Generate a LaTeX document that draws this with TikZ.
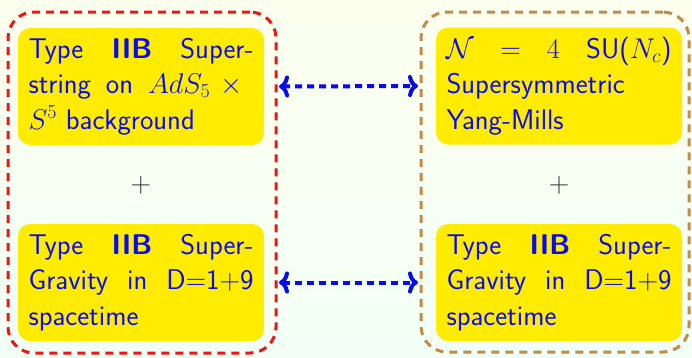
\RequirePackage{fix-cm}
\documentclass[tikz,border=0pt]{standalone}
\usepackage{fontspec}
\usetikzlibrary{arrows.meta}
\definecolor{bgtop}{RGB}{252,255,238}
\definecolor{bgbot}{RGB}{242,255,246}
\definecolor{boxyel}{RGB}{255,236,0}
\definecolor{txtblue}{RGB}{10,10,240}
\definecolor{redline}{RGB}{240,20,20}
\definecolor{brownline}{RGB}{196,138,74}
\tikzset{
  ybox/.style={fill=boxyel, rounded corners=12pt, text width=225pt, inner xsep=10.5pt,
    minimum height=117pt, text=txtblue, align=justify,
    font=\sffamily\fontsize{28.5}{35.5}\selectfont},
  outerbox/.style={rounded corners=26pt, line width=3pt, dash pattern=on 8pt off 6pt,
    minimum width=268pt, minimum height=341pt, inner sep=0pt},
  plussign/.style={text=black!80, font=\fontsize{28.5}{35.5}\selectfont, inner sep=0pt},
  dualarr/.style={txtblue, line width=4pt, dash pattern=on 7pt off 5pt,
    {Computer Modern Rightarrow[length=10pt,width=22pt,line cap=round,line join=round]}-{Computer Modern Rightarrow[length=10pt,width=22pt,line cap=round,line join=round]},
    shorten <=1.5pt, shorten >=1.5pt}
}
\begin{document}
\begin{tikzpicture}[x=1pt,y=-1pt]
\useasboundingbox (0,0) rectangle (692,357);
\shade[top color=bgtop, bottom color=bgbot] (0,0) rectangle (692,357);
\node[outerbox, draw=redline] (red) at (142,182.5) {};
\node[outerbox, draw=brownline, minimum height=340pt] (brown) at (555,182) {};
\node[ybox] (lt) at (141,86.5) {Type \textbf{IIB} Super-\linebreak string on $AdS_5\times{}$\linebreak $S^5$ background\par};
\node[ybox] (lb) at (141,282.5) {Type \textbf{IIB} Super-\linebreak Gravity in D$=$1$+$9\linebreak spacetime\par};
\node[ybox] (rt) at (559,86) {$\mathcal{N}$ $=$ $4$ SU($N_c$)\linebreak Supersymmetric\newline Yang-Mills\par};
\node[ybox] (rb) at (559,282.5) {Type \textbf{IIB} Super-\linebreak Gravity in D$=$1$+$9\linebreak spacetime\par};
\node[plussign] (pl) at (141,185) {$+$};
\node[plussign] (pr) at (559,185) {$+$};
\draw[dualarr] (red.east |- lt) -- (brown.west |- rt);
\draw[dualarr] (red.east |- lb) -- (brown.west |- rb);
\end{tikzpicture}
\end{document}
